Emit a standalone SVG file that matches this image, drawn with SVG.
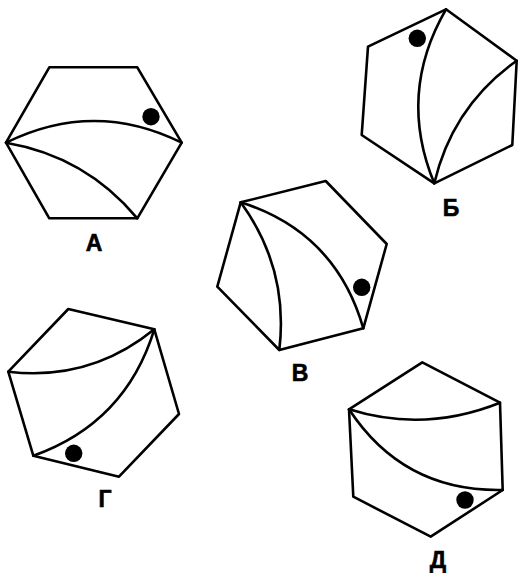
<svg xmlns="http://www.w3.org/2000/svg" width="518" height="573" viewBox="0 0 518 573">
<style>
.hex{fill:none;stroke:#000;stroke-width:2.6;stroke-linejoin:round}
.arc{fill:none;stroke:#000;stroke-width:2.6;stroke-linecap:round}
.dot{fill:#000}
.lbl{font-family:"Liberation Sans",Arial,sans-serif;font-weight:bold;font-size:23px;fill:#000;text-anchor:middle;stroke:#000;stroke-width:0.6}
</style>
<rect width="518" height="573" fill="#fff"/>
<g id="hexA">
<polygon class="hex" points="49.3,67.3 137.3,67.3 181.7,142.7 137.3,218.3 49.3,218.3 6,142.7"/>
<path class="arc" d="M6,142.7 Q94.2,99.3 181.7,142.7"/>
<path class="arc" d="M6,142.7 Q85.7,156.3 137.3,218.3"/>
<circle class="dot" cx="151" cy="116.7" r="8.7"/>
<text class="lbl" x="94" y="251">А</text>
</g>
<g id="hexB">
<polygon class="hex" points="446,9.3 516.7,60.7 512.3,145 434.3,183.3 361.7,135 368,46.7"/>
<path class="arc" d="M446,9.3 Q397.2,93.5 434.3,183.3"/>
<path class="arc" d="M434.3,183.3 Q452.3,106.4 516.7,60.7"/>
<circle class="dot" cx="417.3" cy="38.3" r="8.7"/>
<text class="lbl" x="451" y="216">Б</text>
</g>
<g id="hexV">
<polygon class="hex" points="240.7,202.3 325.7,181 386.7,244 363.3,328.3 279.3,350 217.3,286.7"/>
<path class="arc" d="M240.7,202.3 Q289,268.6 279.3,350"/>
<path class="arc" d="M240.7,202.3 Q335.8,232.5 363.3,328.3"/>
<circle class="dot" cx="361.7" cy="287.3" r="8.7"/>
<text class="lbl" x="300" y="381">В</text>
</g>
<g id="hexG">
<polygon class="hex" points="68.3,309 154.3,329.3 179,414 119,476.7 33.3,455.7 8.3,371.7"/>
<path class="arc" d="M8.3,371.7 Q90.3,381.5 154.3,329.3"/>
<path class="arc" d="M33.3,455.7 Q125.6,422.9 154.3,329.3"/>
<circle class="dot" cx="73.7" cy="453.3" r="8.7"/>
<text class="lbl" x="105" y="507">Г</text>
</g>
<g id="hexD">
<polygon class="hex" points="422.3,362.3 500,402.7 502.7,490 430.7,536.7 353.3,496.7 349,409.3"/>
<path class="arc" d="M349,409.3 Q424.5,433 500,402.7"/>
<path class="arc" d="M349,409.3 Q403.5,492.1 502.7,490"/>
<circle class="dot" cx="465" cy="500" r="8.7"/>
<text class="lbl" x="438" y="568">Д</text>
</g>
<g id="connectors"/>
</svg>
